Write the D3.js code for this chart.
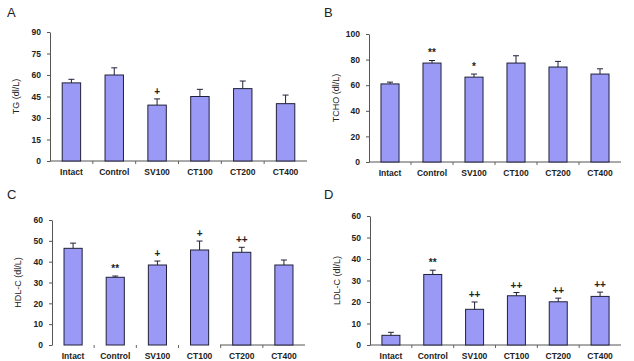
<!DOCTYPE html>
<html>
<head>
<meta charset="utf-8">
<script src="https://cdn.jsdelivr.net/npm/d3@7"></script>
<style>
  body { margin: 0; background: #fff; }
  svg { display: block; }
  text { font-family: "Liberation Sans", Arial, sans-serif; }
</style>
</head>
<body>
<svg id="chart" width="634" height="361"></svg>
<script>
const groups = ['Intact', 'Control', 'SV100', 'CT100', 'CT200', 'CT400'];

const tgMean = [54.5, 60, 39, 45, 50.5, 40];
const tgErr = [57, 65, 43.3, 50, 55.8, 46];
const tgMark = ['', '', '+', '', '', ''];

const tchoMean = [61, 77.3, 66.3, 77.3, 74.2, 68.7];
const tchoErr = [62.4, 79.3, 68.7, 83, 78.6, 72.8];
const tchoMark = ['', '**', '*', '', '', ''];

const hdlMean = [46.4, 32.5, 38.4, 45.6, 44.5, 38.4];
const hdlErr = [48.9, 33.1, 40.3, 49.9, 46.9, 40.8];
const hdlMark = ['', '**', '+', '+', '++', ''];

const ldlMean = [4.5, 32.8, 16.6, 22.9, 20.1, 22.6];
const ldlErr = [5.9, 34.8, 20, 24.4, 21.8, 24.6];
const ldlMark = ['', '**', '++', '++', '++', '++'];

const panels = [
  { letter: 'A', title: 'TG (dl/L)', mean: tgMean, err: tgErr, mark: tgMark,
    max: 90, ticks: [0, 15, 30, 45, 60, 75, 90],
    x0: 50, x1: 307, y0: 161, y1: 32, lx: 7, ly: 17, tx: 17 },
  { letter: 'B', title: 'TCHO (dl/L)', mean: tchoMean, err: tchoErr, mark: tchoMark,
    max: 100, ticks: [0, 20, 40, 60, 80, 100],
    x0: 369, x1: 621, y0: 162, y1: 34, lx: 324, ly: 17, tx: 337 },
  { letter: 'C', title: 'HDL-C (dl/L)', mean: hdlMean, err: hdlErr, mark: hdlMark,
    max: 60, ticks: [0, 10, 20, 30, 40, 50, 60],
    x0: 52, x1: 305, y0: 345, y1: 220, lx: 7, ly: 199, tx: 19, brokenAxis: 220 },
  { letter: 'D', title: 'LDL-C (dl/L)', mean: ldlMean, err: ldlErr, mark: ldlMark,
    max: 60, ticks: [0, 10, 20, 30, 40, 50, 60],
    x0: 370, x1: 621, y0: 345, y1: 216, lx: 324, ly: 199, tx: 338 }
];

const svg = d3.select('#chart');
const barFill = '#9a9af6';
const stroke = '#20203a';

panels.forEach((p) => {
  const g = svg.append('g');

  const x = d3.scaleBand()
    .domain(groups)
    .range([p.x0, p.x1])
    .paddingInner(0.57)
    .paddingOuter(0.285);

  const y = d3.scaleLinear()
    .domain([0, p.max])
    .range([p.y0, p.y1]);

  // y axis
  const yAxis = g.append('g')
    .attr('transform', `translate(${p.x0},0)`)
    .call(d3.axisLeft(y).tickValues(p.ticks).tickSize(3).tickPadding(6).tickSizeOuter(0));
  yAxis.select('.domain').attr('stroke', '#555');
  yAxis.selectAll('.tick line').attr('stroke', '#555');
  yAxis.selectAll('text')
    .attr('font-size', 8.5).attr('font-weight', 'bold').attr('fill', '#222');

  // x axis labels, ticks sit between categories
  const xAxis = g.append('g')
    .attr('transform', `translate(0,${p.y0})`)
    .call(d3.axisBottom(x).tickSize(0).tickPadding(8));
  xAxis.select('.domain').remove();
  xAxis.selectAll('text')
    .attr('font-size', 8.5).attr('font-weight', 'bold').attr('fill', '#222');

  const step = x.step();
  const between = d3.range(1, groups.length).map((i) => p.x0 + step * i);
  g.selectAll('.xtick')
    .data(between)
    .join('line')
    .attr('x1', (d) => d).attr('x2', (d) => d)
    .attr('y1', p.y0).attr('y2', p.y0 + 3)
    .attr('stroke', '#666');

  g.append('line')
    .attr('x1', p.brokenAxis || p.x0).attr('x2', p.x1)
    .attr('y1', p.y0).attr('y2', p.y0)
    .attr('stroke', '#555');

  // bars
  g.selectAll('.bar')
    .data(groups)
    .join('rect')
    .attr('x', (d) => x(d))
    .attr('y', (d, i) => y(p.mean[i]))
    .attr('width', x.bandwidth())
    .attr('height', (d, i) => y(0) - y(p.mean[i]))
    .attr('fill', barFill)
    .attr('stroke', stroke)
    .attr('stroke-width', 1);

  // error bars (upper only)
  const cx = (d) => x(d) + x.bandwidth() / 2;
  g.selectAll('.err')
    .data(groups)
    .join('line')
    .attr('x1', cx).attr('x2', cx)
    .attr('y1', (d, i) => y(p.mean[i]))
    .attr('y2', (d, i) => y(p.err[i]))
    .attr('stroke', stroke);
  g.selectAll('.cap')
    .data(groups)
    .join('line')
    .attr('x1', (d) => cx(d) - 3).attr('x2', (d) => cx(d) + 3)
    .attr('y1', (d, i) => y(p.err[i]))
    .attr('y2', (d, i) => y(p.err[i]))
    .attr('stroke', stroke);

  // significance marks
  g.selectAll('.mark')
    .data(groups)
    .join('text')
    .attr('x', cx)
    .attr('y', (d, i) => y(p.err[i]) - 4)
    .attr('text-anchor', 'middle')
    .attr('font-size', 10)
    .attr('font-weight', 'bold')
    .attr('fill', '#222')
    .text((d, i) => p.mark[i]);

  // y title
  g.append('text')
    .attr('transform', `translate(${p.tx},${(p.y0 + p.y1) / 2}) rotate(-90)`)
    .attr('text-anchor', 'middle')
    .attr('dominant-baseline', 'middle')
    .attr('font-size', 9)
    .attr('fill', '#222')
    .text(p.title);

  // panel letter
  g.append('text')
    .attr('x', p.lx).attr('y', p.ly)
    .attr('font-family', '"Liberation Serif", "Times New Roman", serif')
    .attr('font-size', 13)
    .attr('fill', '#222')
    .text(p.letter);
});
</script>
</body>
</html>
